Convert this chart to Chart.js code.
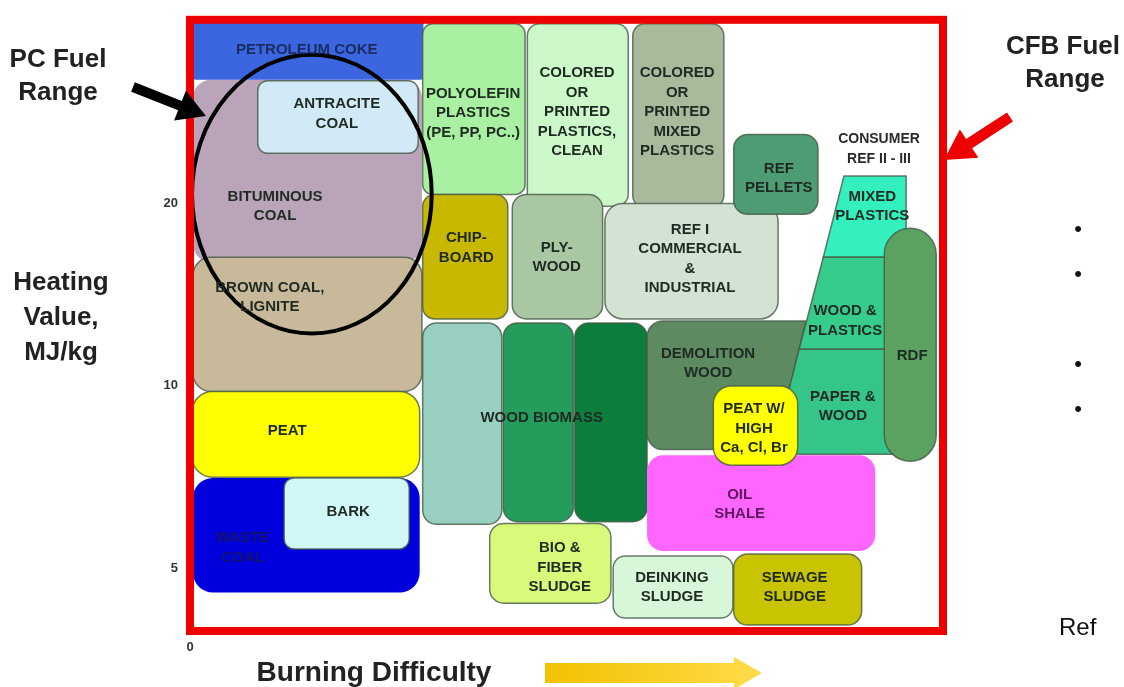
<!DOCTYPE html>
<html>
<head>
<meta charset="utf-8">
<script src="https://cdn.jsdelivr.net/npm/chart.js@4.4.1/dist/chart.umd.min.js"></script>
<style>
  html, body { margin: 0; padding: 0; background: #fff; }
  #wrap { width: 1124px; height: 687px; position: relative; }
</style>
</head>
<body>
<div id="wrap"><canvas id="fuel-chart"></canvas></div>
<script>
// x = burning difficulty (relative, 0-100), y = heating value in MJ/kg (log axis)
const fuelLabels = [
  'BITUMINOUS\nCOAL', 'PETROLEUM COKE', 'ANTRACITE\nCOAL', 'BROWN COAL,\nLIGNITE', 'PEAT',
  'WASTE\nCOAL', 'BARK', 'POLYOLEFIN\nPLASTICS\n(PE, PP, PC..)',
  'COLORED\nOR\nPRINTED\nPLASTICS,\nCLEAN', 'COLORED\nOR\nPRINTED\nMIXED\nPLASTICS',
  'REF I\nCOMMERCIAL\n&\nINDUSTRIAL', 'CHIP-\nBOARD', 'PLY-\nWOOD', 'REF\nPELLETS',
  '', 'WOOD BIOMASS', '', 'DEMOLITION\nWOOD', 'MIXED\nPLASTICS', 'WOOD &\nPLASTICS',
  'PAPER &\nWOOD', 'RDF', 'OIL\nSHALE', 'PEAT W/\nHIGH\nCa, Cl, Br', 'BIO &\nFIBER\nSLUDGE',
  'DEINKING\nSLUDGE', 'SEWAGE\nSLUDGE'
];
const difficultyFrom = [0.4, 0.4, 9.0, 0.4, 0.3, 0.4, 12.5, 30.9, 44.8, 58.8, 55.1, 30.9, 42.8, 72.2,
  30.9, 41.6, 51.1, null, null, null, null, 92.2, 60.7, 69.5, 39.8, 56.2, 72.2];
const difficultyTo = [30.8, 31.0, 30.3, 30.8, 30.5, 30.5, 29.1, 44.5, 58.2, 70.9, 78.1, 42.2, 54.8, 83.4,
  41.4, 50.9, 60.7, null, null, null, null, 99.1, 91.0, 80.7, 55.9, 72.1, 89.2];
const heatingLow = [16.0, 32.0, 24.2, 9.79, 7.07, 4.56, 5.38, 20.7, 19.8, 19.7, 12.9, 12.9, 12.9, 19.2,
  5.91, 5.97, 5.97, null, null, null, null, 7.51, 5.34, 7.40, 4.38, 4.14, 4.03];
const heatingHigh = [32.0, 41, 31.9, 16.3, 9.79, 7.05, 7.05, 39.6, 39.6, 39.6, 20.0, 20.7, 20.7, 26.0,
  12.7, 12.7, 12.7, null, null, null, null, 18.2, 7.68, 10.0, 5.93, 5.24, 5.28];
// fuels whose edge follows the slanted CFB boundary: [difficulty, heating] corners
const slantedOutlines = {
  17: [[60.7, 12.8], [81.8, 12.8], [77.6, 7.85], [60.7, 7.85]],
  18: [[86.85, 22.2], [95.1, 22.2], [95.1, 16.3], [84.1, 16.3]],
  19: [[84.1, 16.3], [95.1, 16.3], [95.1, 11.5], [80.9, 11.5]],
  20: [[80.9, 11.5], [95.1, 11.5], [95.1, 7.71], [77.4, 7.71]]
};
// where each label sits (difficulty, heating)
const labelDifficulty = [11.3, 15.5, 19.5, 10.6, 12.9, 7.0, 21.0, 37.6, 51.4, 64.7, 66.4, 36.7, 48.7, 78.2,
  0, 46.7, 0, 68.8, 90.6, 87.0, 86.7, 95.9, 73.0, 74.9, 49.1, 64.0, 80.3];
const labelHeating = [19.8, 35.8, 28.1, 14.0, 8.43, 5.40, 6.20, 28.2, 28.3, 28.3, 16.2, 16.9, 16.3, 22.0,
  0, 8.85, 0, 10.9, 19.8, 12.8, 9.26, 11.2, 6.37, 8.5, 5.01, 4.65, 4.65];
const freeNote = { text: 'CONSUMER\nREF II - III', difficulty: 91.5, heating: 24.6 };
const pcRange = { from: 0.27, to: 32.1, low: 12.2, high: 35.2 };

const xTickValues = [0];
const xTickLabels = ['0'];
const yTickValues = [5, 10, 20];
const yTickLabels = ['5', '10', '20'];

// styles
const fillColors = ['#b9a4ba', '#3b66e0', '#d2e9f7', '#c9b99b', '#ffff00', '#0000dc', '#d2f7f7',
  '#aaf0a2', '#cdf8c9', '#a9ba9c', '#d3e2d3', '#c9b800', '#a9c7a3', '#4d9c74',
  '#98cfc0', '#249c5b', '#0b7d3d', '#5e8a62', '#34f0bf', '#35cc8c', '#35c589', '#5ba160',
  '#ff66ff', '#ffff00', '#d8fa7a', '#d8f6d8', '#c9c400'];
const cornerRadius = [18, 3, 10, 18, 20, 20, 10, 10, 12, 12, 18, 12, 14, 14, 14, 14, 14,
  [16, 0, 0, 16], 0, 0, 0, 26, 16, 18, 14, 12, 14];
const edgeColors = fillColors.map((c, i) => [0, 1, 5, 22].includes(i) ? null : 'rgba(70,90,70,0.8)');
const textColors = fillColors.map((c, i) => i === 1 ? '#1a2b5e' : i === 5 ? '#14146a' : i === 22 ? '#5c1860' : '#1f2a22');

const FONT = '"Liberation Sans", Arial, sans-serif';

function roundedPath(ctx, pts, r) {
  const n = pts.length;
  const radii = Array.isArray(r) ? r : pts.map(() => r);
  ctx.beginPath();
  const a = pts[n - 1], b = pts[0];
  ctx.moveTo((a.x + b.x) / 2, (a.y + b.y) / 2);
  for (let i = 0; i < n; i++) {
    const p = pts[i], q = pts[(i + 1) % n], o = pts[(i - 1 + n) % n];
    const lim = Math.min(Math.hypot(q.x - p.x, q.y - p.y), Math.hypot(o.x - p.x, o.y - p.y)) / 2;
    ctx.arcTo(p.x, p.y, q.x, q.y, Math.min(radii[i], lim));
  }
  ctx.closePath();
}

function multiline(ctx, text, x, y, lh) {
  const lines = text.split('\n');
  lines.forEach((t, i) => ctx.fillText(t, x, y + (i - (lines.length - 1) / 2) * lh));
}

function arrow(ctx, x0, y0, x1, y1, shaft, headLen, headW, fill) {
  const len = Math.hypot(x1 - x0, y1 - y0), ux = (x1 - x0) / len, uy = (y1 - y0) / len;
  const px = -uy, py = ux, bx = x1 - ux * headLen, by = y1 - uy * headLen;
  ctx.beginPath();
  ctx.moveTo(x0 + px * shaft / 2, y0 + py * shaft / 2);
  ctx.lineTo(bx + px * shaft / 2, by + py * shaft / 2);
  ctx.lineTo(bx + px * headW / 2, by + py * headW / 2);
  ctx.lineTo(x1, y1);
  ctx.lineTo(bx - px * headW / 2, by - py * headW / 2);
  ctx.lineTo(bx - px * shaft / 2, by - py * shaft / 2);
  ctx.lineTo(x0 - px * shaft / 2, y0 - py * shaft / 2);
  ctx.closePath();
  ctx.fillStyle = fill;
  ctx.fill();
}

const fuelMap = {
  id: 'fuelMap',
  beforeDatasetsDraw(chart) {
    const { ctx, chartArea: a, scales: { x, y } } = chart;
    ctx.save();
    ctx.beginPath();
    ctx.rect(a.left, a.top, a.right - a.left, a.bottom - a.top);
    ctx.clip();
    fuelLabels.forEach((label, i) => {
      const corners = slantedOutlines[i] || [
        [difficultyFrom[i], heatingHigh[i]], [difficultyTo[i], heatingHigh[i]],
        [difficultyTo[i], heatingLow[i]], [difficultyFrom[i], heatingLow[i]]
      ];
      const pts = corners.map(([d, h]) => ({ x: x.getPixelForValue(d), y: y.getPixelForValue(h) }));
      roundedPath(ctx, pts, cornerRadius[i]);
      ctx.fillStyle = fillColors[i];
      ctx.fill();
      if (edgeColors[i]) {
        ctx.lineWidth = 1.5;
        ctx.strokeStyle = edgeColors[i];
        ctx.stroke();
      }
    });

    // PC fuel range ellipse
    const ex0 = x.getPixelForValue(pcRange.from), ex1 = x.getPixelForValue(pcRange.to);
    const ey0 = y.getPixelForValue(pcRange.high), ey1 = y.getPixelForValue(pcRange.low);
    ctx.beginPath();
    ctx.ellipse((ex0 + ex1) / 2, (ey0 + ey1) / 2, (ex1 - ex0) / 2, (ey1 - ey0) / 2, 0, 0, Math.PI * 2);
    ctx.lineWidth = 4;
    ctx.strokeStyle = '#000';
    ctx.stroke();

    ctx.font = 'bold 15px ' + FONT;
    ctx.textAlign = 'center';
    ctx.textBaseline = 'middle';
    fuelLabels.forEach((label, i) => {
      if (!label) return;
      ctx.fillStyle = textColors[i];
      multiline(ctx, label, x.getPixelForValue(labelDifficulty[i]), y.getPixelForValue(labelHeating[i]), 19.5);
    });
    ctx.font = 'bold 14px ' + FONT;
    ctx.fillStyle = '#2a2a2a';
    multiline(ctx, freeNote.text, x.getPixelForValue(freeNote.difficulty), y.getPixelForValue(freeNote.heating), 20);
    ctx.restore();
  },
  afterDraw(chart) {
    const { ctx, chartArea: a } = chart;
    ctx.save();
    // red CFB frame
    ctx.lineWidth = 8;
    ctx.strokeStyle = '#ee0000';
    ctx.strokeRect(a.left, a.top, a.right - a.left, a.bottom - a.top);

    ctx.textAlign = 'center';
    ctx.textBaseline = 'middle';
    ctx.fillStyle = '#222';
    ctx.font = 'bold 26px ' + FONT;
    ctx.fillText('PC Fuel', 58, 60);
    ctx.fillText('Range', 58, 93);
    ctx.fillText('CFB Fuel', 1063, 47);
    ctx.fillText('Range', 1065, 80);
    multiline(ctx, 'Heating\nValue,\nMJ/kg', 61, 318, 35);
    ctx.font = 'bold 28px ' + FONT;
    ctx.fillText('Burning Difficulty', 374, 673);

    arrow(ctx, 133, 87, 206, 116, 10, 28, 32, '#000');
    arrow(ctx, 1010, 117, 944, 160, 11, 30, 34, '#ee0000');
    const g = ctx.createLinearGradient(545, 0, 762, 0);
    g.addColorStop(0, '#f3c100');
    g.addColorStop(1, '#ffdc4a');
    arrow(ctx, 545, 673, 762, 673, 20, 28, 32, g);

    ctx.font = '22px ' + FONT;
    ctx.fillStyle = '#111';
    [230, 275, 365, 410].forEach(by => ctx.fillText('•', 1078, by));
    ctx.textAlign = 'left';
    ctx.font = '24px ' + FONT;
    ctx.fillText('Ref', 1059, 628);
    ctx.restore();
  }
};

new Chart(document.getElementById('fuel-chart'), {
  type: 'scatter',
  data: { datasets: [] },
  options: {
    responsive: true,
    maintainAspectRatio: false,
    animation: false,
    layout: { padding: { top: 11, right: 181, left: 0, bottom: 0 } },
    plugins: { legend: { display: false }, tooltip: { enabled: false } },
    scales: {
      x: {
        type: 'linear', min: 0, max: 100,
        grid: { display: false, drawTicks: false }, border: { display: false },
        afterBuildTicks: s => { s.ticks = xTickValues.map(v => ({ value: v })); },
        afterFit: s => { s.height = 56; },
        ticks: {
          padding: 9, color: '#333', font: { family: FONT, size: 13, weight: 'bold' },
          callback: (v, i) => xTickLabels[i]
        }
      },
      y: {
        type: 'logarithmic', min: 3.94, max: 40.2,
        grid: { display: false, drawTicks: false }, border: { display: false },
        afterBuildTicks: s => { s.ticks = yTickValues.map(v => ({ value: v })); },
        afterFit: s => { s.width = 190; },
        ticks: {
          padding: 12, color: '#333', font: { family: FONT, size: 13, weight: 'bold' },
          callback: (v, i) => yTickLabels[i]
        }
      }
    }
  },
  plugins: [fuelMap]
});
</script>
</body>
</html>
